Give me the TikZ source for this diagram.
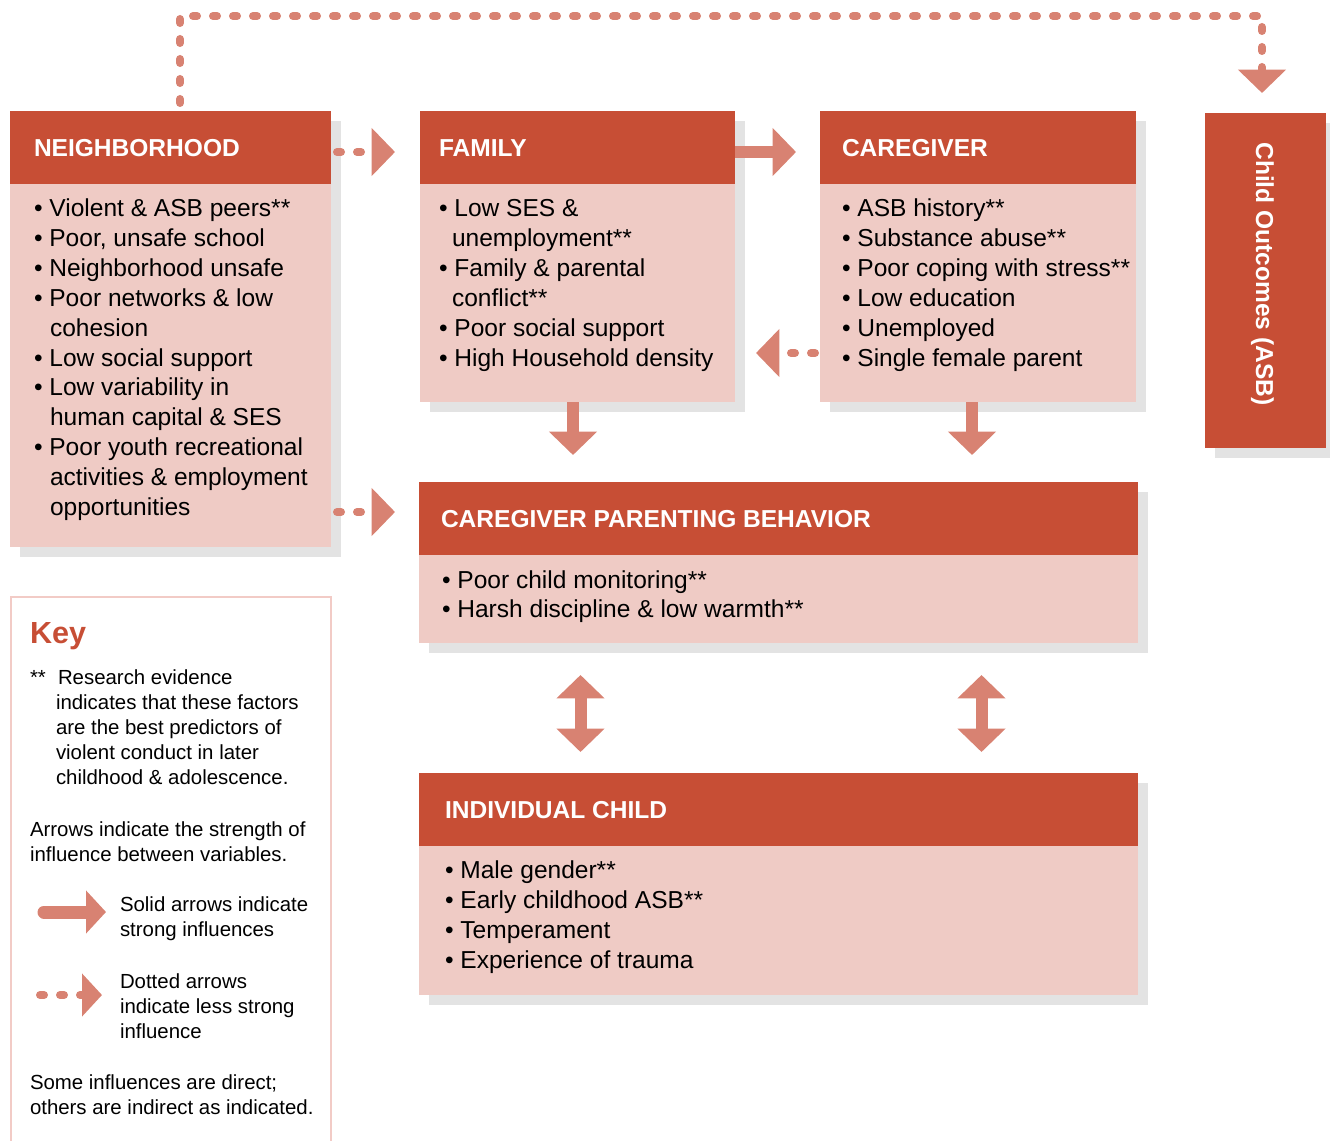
\documentclass[tikz,border=0pt]{standalone}
\usepackage{fontspec}
\setmainfont{Liberation Sans}
\usetikzlibrary{arrows.meta,calc}
\definecolor{hdr}{RGB}{199,78,53}
\definecolor{bodyp}{RGB}{239,203,197}
\definecolor{arr}{RGB}{216,130,114}
\definecolor{shd}{RGB}{227,227,227}
\definecolor{keyb}{RGB}{242,203,198}
\newcommand\bodyfont{\fontsize{18.4pt}{22pt}\selectfont}
\newcommand\hdrfont{\bfseries\fontsize{18.4pt}{22pt}\selectfont}
\newcommand\keyfont{\fontsize{15.3pt}{18pt}\selectfont}
\newcommand\keytitlefont{\bfseries\fontsize{22.9pt}{26pt}\selectfont}
\begin{document}
\begin{tikzpicture}[x=0.75pt,y=-0.75pt,
  every node/.style={inner sep=0pt, outer sep=0pt},
  panel/.style 2 args={fill=bodyp, anchor=north west, minimum width=#1*0.75pt, minimum height=#2*0.75pt,
     preaction={fill=shd, transform canvas={xshift=7.5pt, yshift=-7.5pt}}},
  headbar/.style={fill=hdr, anchor=north west, minimum width=#1*0.75pt, minimum height=54.75pt},
  htxt/.style={anchor=base west, text=white, font=\hdrfont},
  btxt/.style={anchor=base west, text=black, font=\bodyfont},
  ktxt/.style={anchor=base west, text=black, font=\keyfont},
  dotline/.style={draw=arr, line width=6pt, line cap=round, dash pattern=on 3pt off 12pt},
  tipbig/.tip={Triangle[length=17.6pt, width=35.25pt]},
  tipkey/.tip={Triangle[length=15pt, width=31.5pt]},
  solidarr/.style={draw=arr, line width=9pt, -{tipbig}},
  dblarr/.style={draw=arr, line width=9pt, {tipbig}-{tipbig}},
  dotarr/.style={dotline, -{tipbig}},
  ]
\useasboundingbox (0,0) rectangle (1330,1141);

% ---------- panels ----------
\node[panel={321}{436}] (nbh) at (10,111) {};
\node[headbar=321] (nbhH) at (10,111) {};
\node[panel={315}{291}] (fam) at (420,111) {};
\node[headbar=315] (famH) at (420,111) {};
\node[panel={316}{291}] (cg) at (820,111) {};
\node[headbar=316] (cgH) at (820,111) {};
\node[panel={719}{161}] (cpb) at (419,482) {};
\node[headbar=719] (cpbH) at (419,482) {};
\node[panel={719}{222}] (ic) at (419,773) {};
\node[headbar=719] (icH) at (419,773) {};
\node[panel={121}{335}, fill=hdr] (out) at (1205,113) {};

% ---------- titles ----------
\node[htxt] (nbhT) at (34,157) {NEIGHBORHOOD};
\node[htxt] (famT) at (439,157) {FAMILY};
\node[htxt] (cgT) at (842,157) {CAREGIVER};
\node[htxt] (cpbT) at (441,527) {CAREGIVER PARENTING BEHAVIOR};
\node[htxt] (icT) at (445,818) {INDIVIDUAL CHILD};
\node[text=white, font=\hdrfont, rotate=-90, anchor=base] (outT) at (1256,274) {Child Outcomes (ASB)};

% ---------- lists ----------
\foreach \t [count=\i] in {
  {• Violent \& ASB peers**},
  {• Poor, unsafe school},
  {• Neighborhood unsafe},
  {• Poor networks \& low},
  {\hspace*{12pt}cohesion},
  {• Low social support},
  {• Low variability in},
  {\hspace*{12pt}human capital \& SES},
  {• Poor youth recreational},
  {\hspace*{12pt}activities \& employment},
  {\hspace*{12pt}opportunities}}
  \node[btxt] (nbhL\i) at (34,{217+29.8*(\i-1)}) {\t};

\foreach \t [count=\i] in {
  {• Low SES \&},
  {\hspace*{9.75pt}unemployment**},
  {• Family \& parental},
  {\hspace*{9.75pt}conflict**},
  {• Poor social support},
  {• High Household density}}
  \node[btxt] (famL\i) at (439,{217+29.8*(\i-1)}) {\t};

\foreach \t [count=\i] in {
  {• ASB history**},
  {• Substance abuse**},
  {• Poor coping with stress**},
  {• Low education},
  {• Unemployed},
  {• Single female parent}}
  \node[btxt] (cgL\i) at (842,{217+29.8*(\i-1)}) {\t};

\foreach \t [count=\i] in {
  {• Poor child monitoring**},
  {• Harsh discipline \& low warmth**}}
  \node[btxt] (cpbL\i) at (442,{588+29.3*(\i-1)}) {\t};

\foreach \t [count=\i] in {
  {• Male gender**},
  {• Early childhood ASB**},
  {• Temperament},
  {• Experience of trauma}}
  \node[btxt] (icL\i) at (445,{878+30*(\i-1)}) {\t};

% ---------- connectors ----------
\draw[dotarr] ($(nbhH.north west)+(170,-8)$) |- ($(out.north)+(-3.5,-97)$) -- ($(out.north)+(-3.5,-20)$);
\draw[dotarr] ($(nbhH.east)+(6,4.5)$) -- ($(famH.west)+(-25,4.5)$);
\draw[dotarr] ($(nbh.east |- cpbH.west)+(6,-6.5)$) -- ($(cpbH.west)+(-24,-6.5)$);
\draw[solidarr] ($(famH.east)+(0,4.5)$) -- ($(cgH.west)+(-24,4.5)$);
\draw[dotarr] ($(cg.south west)+(-5,-49)$) -- ($(fam.south east)+(21,-49)$);
\draw[solidarr] ($(fam.south)+(-4.5,0)$) -- ($(fam.south |- cpbH.north)+(-4.5,-27)$);
\draw[solidarr] ($(cg.south)+(-6,0)$) -- ($(cg.south |- cpbH.north)+(-6,-27)$);
\draw[dblarr] ($(cpb.south)+(-198,32)$) -- ($(icH.north)+(-198,-21)$);
\draw[dblarr] ($(cpb.south)+(203,32)$) -- ($(icH.north)+(203,-21)$);

% ---------- key ----------
\node[draw=keyb, line width=1.5pt, anchor=north west, minimum width=240pt, minimum height=420pt] (key) at (11,597) {};
\node[anchor=base west, text=hdr, font=\keytitlefont] (keyT) at (30,643) {Key};
\node[ktxt] (k0) at (30,684) {**};
\node[ktxt] (k1) at (58,684) {Research evidence};
\node[ktxt] (k2) at (56,709) {indicates that these factors};
\node[ktxt] (k3) at (56,734) {are the best predictors of};
\node[ktxt] (k4) at (56,759) {violent conduct in later};
\node[ktxt] (k5) at (56,784) {childhood \& adolescence.};
\node[ktxt] (k6) at (30,836) {Arrows indicate the strength of};
\node[ktxt] (k7) at (30,861) {influence between variables.};
\node[ktxt] (k8) at (120,911) {Solid arrows indicate};
\node[ktxt] (k9) at (120,936) {strong influences};
\node[ktxt] (k10) at (120,988) {Dotted arrows};
\node[ktxt] (k11) at (120,1013) {indicate less strong};
\node[ktxt] (k12) at (120,1038) {influence};
\node[ktxt] (k13) at (30,1089) {Some influences are direct;};
\node[ktxt] (k14) at (30,1114) {others are indirect as indicated.};
\coordinate (ls1) at (44,912);
\coordinate (ls2) at (106,912);
\coordinate (ld1) at (40,995);
\coordinate (ld2) at (102,995);
\draw[draw=arr, line width=9.75pt, line cap=round, -{tipkey}] (ls1) -- (ls2);
\draw[dotline, -{tipkey}] (ld1) -- (ld2);
\end{tikzpicture}
\end{document}
